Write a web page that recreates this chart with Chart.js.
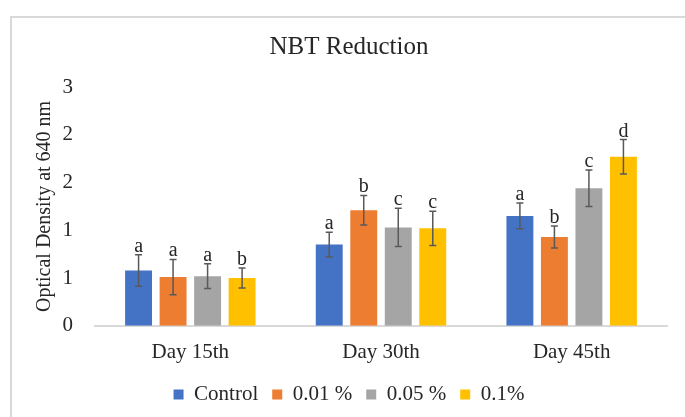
<!DOCTYPE html>
<html lang="en">
<head>
    <meta charset="UTF-8">
    <title>NBT Reduction</title>
    <script src="https://cdn.jsdelivr.net/npm/chart.js"></script>
    <style>
        body { margin: 0; padding: 0; background: #fff; }
        .wrap { position: relative; width: 685px; height: 417px; overflow: hidden; background: #fff; }
        .frame {
            position: absolute; left: 10px; top: 16px;
            width: 720px; height: 460px;
            border-left: 2px solid #d9d9d9; border-top: 2px solid #d9d9d9;
        }
        canvas { position: absolute; left: 0; top: 0; }
    </style>
</head>
<body>
<div class="wrap">
    <div class="frame"></div>
    <canvas id="chart" width="685" height="417"></canvas>
</div>

<script>
    const days = ['Day 15th', 'Day 30th', 'Day 45th'];
    const control = [0.58, 0.85, 1.15];
    const controlErr = [0.165, 0.13, 0.135];
    const conc001 = [0.51, 1.21, 0.93];
    const conc001Err = [0.185, 0.155, 0.115];
    const conc005 = [0.52, 1.03, 1.44];
    const conc005Err = [0.13, 0.2, 0.19];
    const conc01 = [0.50, 1.02, 1.77];
    const conc01Err = [0.105, 0.18, 0.18];
    const controlLetters = ['a', 'a', 'a'];
    const conc001Letters = ['a', 'b', 'b'];
    const conc005Letters = ['a', 'c', 'c'];
    const conc01Letters = ['b', 'c', 'd'];

    const serif = "'Liberation Serif', 'Times New Roman', serif";

    const errorBars = {
        id: 'errorBars',
        afterDatasetsDraw(chart) {
            const ctx = chart.ctx;
            const y = chart.scales.y;
            chart.data.datasets.forEach((ds, i) => {
                const meta = chart.getDatasetMeta(i);
                meta.data.forEach((bar, j) => {
                    const v = ds.data[j], e = ds.err[j];
                    const top = y.getPixelForValue(v + e);
                    const bot = y.getPixelForValue(v - e);
                    ctx.save();
                    ctx.strokeStyle = '#595959';
                    ctx.lineWidth = 1.5;
                    ctx.beginPath();
                    ctx.moveTo(bar.x, top); ctx.lineTo(bar.x, bot);
                    ctx.moveTo(bar.x - 3.5, top); ctx.lineTo(bar.x + 3.5, top);
                    ctx.moveTo(bar.x - 3.5, bot); ctx.lineTo(bar.x + 3.5, bot);
                    ctx.stroke();
                    ctx.fillStyle = '#262626';
                    ctx.font = '20px ' + serif;
                    ctx.textAlign = 'center';
                    ctx.textBaseline = 'alphabetic';
                    ctx.fillText(ds.letters[j], bar.x, top - 3);
                    ctx.restore();
                });
            });
        }
    };

    new Chart(document.getElementById('chart'), {
        type: 'bar',
        data: {
            labels: days,
            datasets: [
                { label: 'Control', data: control, err: controlErr, letters: controlLetters, backgroundColor: '#4472C4' },
                { label: '0.01 %', data: conc001, err: conc001Err, letters: conc001Letters, backgroundColor: '#ED7D31' },
                { label: '0.05 %', data: conc005, err: conc005Err, letters: conc005Letters, backgroundColor: '#A5A5A5' },
                { label: '0.1%', data: conc01, err: conc01Err, letters: conc01Letters, backgroundColor: '#FFC000' }
            ]
        },
        options: {
            responsive: false,
            animation: false,
            categoryPercentage: 0.724,
            barPercentage: 0.78,
            layout: { padding: { left: 31, right: 18, top: 0, bottom: 2 } },
            plugins: {
                title: {
                    display: true,
                    text: 'NBT Reduction',
                    color: '#262626',
                    font: { family: serif, size: 25, weight: 'normal' },
                    padding: { top: 32, bottom: 25 }
                },
                legend: {
                    position: 'bottom',
                    labels: {
                        color: '#262626',
                        font: { family: serif, size: 21 },
                        boxWidth: 10,
                        boxHeight: 10,
                        padding: 14
                    }
                },
                tooltip: { enabled: false }
            },
            scales: {
                x: {
                    grid: { display: false, drawTicks: false },
                    border: { display: true, color: '#d9d9d9', width: 2 },
                    ticks: { color: '#262626', font: { family: serif, size: 21 }, padding: 14 },
                    afterFit(scale) { scale.height -= 9; }
                },
                y: {
                    min: 0,
                    max: 2.5,
                    grid: { display: false, drawTicks: false },
                    border: { display: false },
                    ticks: {
                        stepSize: 0.5,
                        color: '#262626',
                        font: { family: serif, size: 21 },
                        padding: 22,
                        callback: v => Math.round(v)
                    },
                    title: {
                        display: true,
                        text: 'Optical Density at 640 nm',
                        color: '#262626',
                        font: { family: serif, size: 20, weight: 'normal' },
                        padding: { top: 2, bottom: 0 }
                    },
                    afterFit(scale) { scale.width = 64; }
                }
            }
        },
        plugins: [errorBars]
    });
</script>
</body>
</html>
